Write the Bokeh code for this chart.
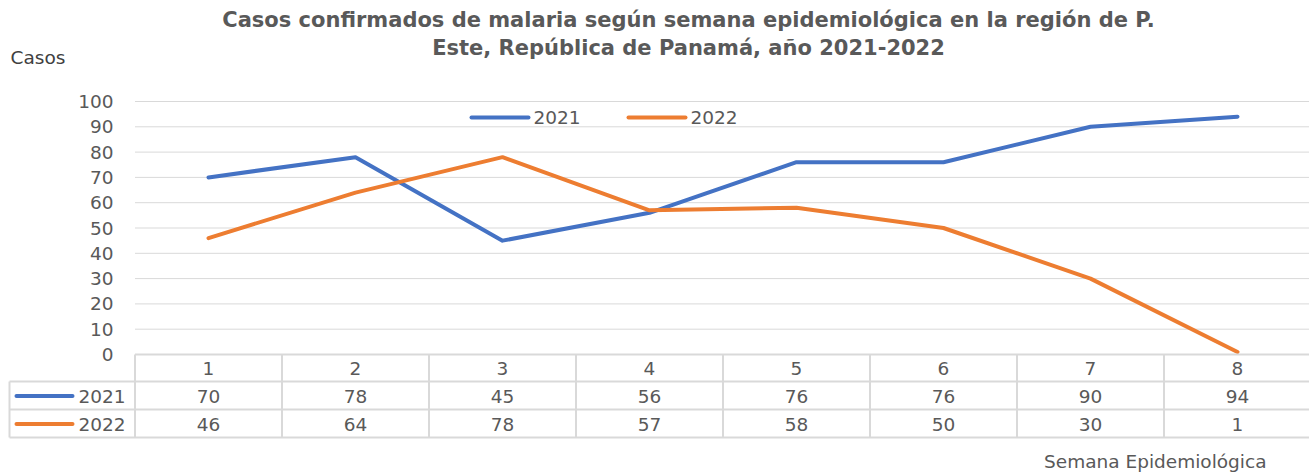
from bokeh.plotting import figure
from bokeh.models import Range1d
from bokeh.core.properties import value
from bokeh.embed import file_html
from bokeh.resources import INLINE

# ---- data ----
weeks = [1, 2, 3, 4, 5, 6, 7, 8]
casos_2021 = [70, 78, 45, 56, 76, 76, 90, 94]
casos_2022 = [46, 64, 78, 57, 58, 50, 30, 1]
series_names = ["2021", "2022"]
series_colors = ["#4472C4", "#ED7D31"]
y_ticks = [0, 10, 20, 30, 40, 50, 60, 70, 80, 90, 100]
title_lines = ["Casos confirmados de malaria según semana epidemiológica en la región de P.",
               "Este, República de Panamá, año 2021-2022"]
y_label = "Casos"
x_label = "Semana Epidemiológica"

FONT = value("DejaVu Sans")
GREY = "#595959"
BORDER = "#d9d9d9"
FS = "18.5px"

W, H = 1309, 473
# canvas-pixel -> data helpers
COLW = 147.0
LEFT = 134.5
PXU = 2.53
ZERO = 354.0
def px(xp):
    return (xp - LEFT) / COLW + 0.5
def py(yp):
    return (ZERO - yp) / PXU

p = figure(width=W, height=H, output_backend="svg", toolbar_location=None,
           x_range=Range1d(px(0), px(W)), y_range=Range1d(py(H), py(0)),
           min_border=0, x_axis_location=None, y_axis_location=None,
           outline_line_color=None)
p.grid.grid_line_color = None
p.background_fill_color = "white"
p.border_fill_color = "white"

n = len(weeks)
x_left = weeks[0] - 0.5
x_right = weeks[-1] + 0.5

# gridlines
p.segment(x0=[x_left] * len(y_ticks), x1=[x_right] * len(y_ticks),
          y0=y_ticks, y1=y_ticks, line_color=BORDER, line_width=1)

# y tick labels
p.text(x=[px(113)] * len(y_ticks), y=y_ticks, text=[str(t) for t in y_ticks],
       text_font=FONT, text_font_size=FS, text_color=GREY,
       text_align="right", text_baseline="middle")

# series lines
for vals, col in zip([casos_2021, casos_2022], series_colors):
    p.line(weeks, vals, line_color=col, line_width=4, line_cap="round", line_join="round")

# inline legend at top
leg_y = py(117)
for (x0p, x1p, tx), name, col in zip([(471, 528, 533), (628, 685, 690)], series_names, series_colors):
    p.segment(x0=[px(x0p)], x1=[px(x1p)], y0=[leg_y], y1=[leg_y], line_color=col,
              line_width=4, line_cap="round")
    p.text(x=[px(tx)], y=[leg_y], text=[name], text_font=FONT, text_font_size=FS,
           text_color=GREY, text_align="left", text_baseline="middle")

# data table
row_tops = [354, 381, 409, 437]
ty = [py(v) for v in row_tops]
tab_left = px(9)
p.segment(x0=[x_left], x1=[x_right], y0=[ty[0]], y1=[ty[0]], line_color=BORDER, line_width=2)
p.segment(x0=[tab_left] * 3, x1=[x_right] * 3, y0=ty[1:], y1=ty[1:], line_color=BORDER, line_width=2)
vx = [w - 0.5 for w in weeks] + [x_right]
p.segment(x0=vx, x1=vx, y0=[ty[0]] * len(vx), y1=[ty[3]] * len(vx), line_color=BORDER, line_width=2)
p.segment(x0=[tab_left], x1=[tab_left], y0=[ty[1]], y1=[ty[3]], line_color=BORDER, line_width=2)

p.text(x=weeks, y=[py(368)] * n, text=[str(w) for w in weeks], text_font=FONT,
       text_font_size=FS, text_color=GREY, text_align="center", text_baseline="middle")
for vals, rowc, name, col in zip([casos_2021, casos_2022], [395.5, 423.5], series_names, series_colors):
    p.text(x=weeks, y=[py(rowc)] * n, text=[str(v) for v in vals], text_font=FONT,
           text_font_size=FS, text_color=GREY, text_align="center", text_baseline="middle")
    p.segment(x0=[px(16)], x1=[px(72)], y0=[py(rowc)], y1=[py(rowc)], line_color=col,
              line_width=4, line_cap="round")
    p.text(x=[px(78)], y=[py(rowc)], text=[name], text_font=FONT, text_font_size=FS,
           text_color=GREY, text_align="left", text_baseline="middle")

# titles / axis labels
for line, yc in zip(title_lines, [19, 47]):
    p.text(x=[px(688)], y=[py(yc)], text=[line], text_font=FONT, text_font_size="21px",
           text_font_style="bold", text_color=GREY, text_align="center", text_baseline="middle")
p.text(x=[px(10)], y=[py(57)], text=[y_label], text_font=FONT, text_font_size=FS,
       text_color="#404040", text_align="left", text_baseline="middle")
p.text(x=[px(1266)], y=[py(461)], text=[x_label], text_font=FONT, text_font_size=FS,
       text_color=GREY, text_align="right", text_baseline="middle")

open("out.html", "w").write(file_html(p, INLINE))
